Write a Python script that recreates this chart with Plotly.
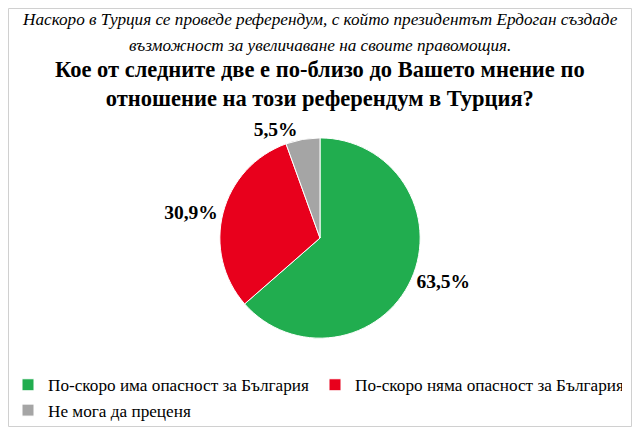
import plotly.graph_objects as go

# answers and shares (%)
labels = ['По-скоро има опасност за България',
          'По-скоро няма опасност за България',
          'Не мога да преценя']
values = [63.5, 30.9, 5.5]
colors = ['#21AD4F', '#E8001C', '#A5A5A5']

subtitle_lines = ['Наскоро в Турция се проведе референдум, с който президентът Ердоган създаде',
                  'възможност за увеличаване на своите правомощия.']
title = ('Кое от следните две е по-близо до Вашето мнение по<br>'
         'отношение на този референдум в Турция?')

serif = 'Liberation Serif'

fig = go.Figure(go.Pie(
    labels=labels,
    values=values,
    sort=False,
    direction='clockwise',
    rotation=0,
    marker=dict(colors=colors, line=dict(color='white', width=1)),
    texttemplate='%{value:.1f}%',
    textposition='outside',
    textfont=dict(family=serif, size=19.5, color='black', weight='bold'),
    hoverinfo='label+value',
    domain=dict(x=[0, 1], y=[0.212, 0.69]),
))

# italic lead-in, one annotation per line to get the wider line spacing
for yy, line in zip([0.972, 0.911], subtitle_lines):
    fig.add_annotation(text='<i>' + line + '</i>', x=0.5, y=yy, xref='paper', yref='paper',
                       xanchor='center', yanchor='middle', showarrow=False,
                       font=dict(family=serif, size=17.2, color='black'))
fig.add_annotation(text='<b>' + title + '</b>', x=0.5, y=0.818, xref='paper', yref='paper',
                   xanchor='center', yanchor='middle', showarrow=False,
                   font=dict(family=serif, size=22.5, color='black'))

# thin frame round the chart (half-pixel in from the edges)
W, H = 624, 419
fig.add_shape(type='rect', xref='paper', yref='paper',
              x0=0.5 / W, y0=0.5 / H, x1=1 - 0.5 / W, y1=1 - 0.5 / H,
              line=dict(color='#D0D0D0', width=1))

# page body keeps an 8px margin, so the figure is a little smaller than the window
fig.update_layout(
    width=W, height=H,
    margin=dict(l=0, r=0, t=0, b=0, autoexpand=False),
    paper_bgcolor='white',
    separators=', ',
    legend=dict(orientation='h', x=0, y=0.143, xanchor='left', yanchor='top',
                entrywidth=262, entrywidthmode='pixels',
                font=dict(family=serif, size=17.2, color='black'),
                itemwidth=30, tracegroupgap=0, bgcolor='rgba(0,0,0,0)'),
)

fig.write_html('out.html')
